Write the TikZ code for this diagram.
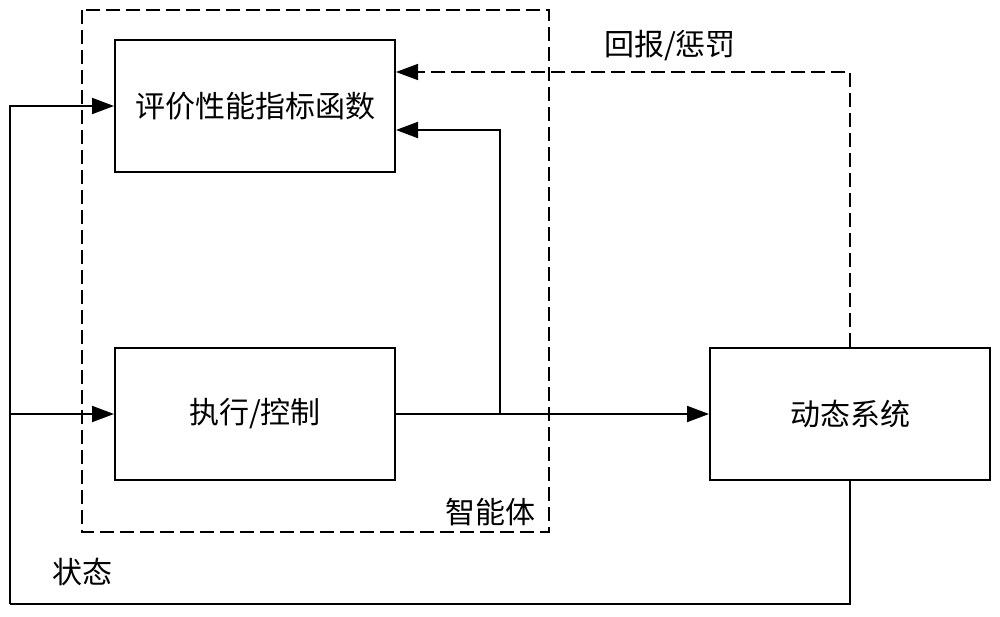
\documentclass[tikz,border=0pt]{standalone}
\usepackage{fontspec}
\setmainfont{Noto Sans CJK SC}
\usetikzlibrary{arrows.meta}
\begin{document}
\begin{tikzpicture}[x=1pt,y=-1pt,
  blk/.style={draw,line width=2pt,minimum width=280pt,minimum height=132pt,inner sep=0pt,font=\fontsize{30}{34}\selectfont},
  lbl/.style={font=\fontsize{30}{34}\selectfont,inner sep=0pt},
  conn/.style={line width=2pt},
  arr/.style={conn,-{Triangle[length=22pt,width=16pt]}},
  dsh/.style={line width=1.5pt,dash pattern=on 14pt off 6pt}]
\useasboundingbox (0,0) rectangle (1000,616);
\fill[white] (0,0) rectangle (1000,616);
% agent dashed box
\coordinate (ag1) at (82,10);
\coordinate (ag2) at (549,532);
\draw[dsh] (ag1) rectangle (ag2);
\node[blk] (eval) at (255,106) {评价性能指标函数};
\node[blk] (ctrl) at (255,414) {执行/控制};
\node[blk] (sys) at (850,414) {动态系统};
\node[lbl] (agent) at (490,512) {智能体};
\node[lbl] (state) at (82,572) {状态};
\node[lbl] (reward) at (670,46) {回报/惩罚};
% control to system
\coordinate (br) at (500,414);
\draw[arr] (ctrl.east) -- (sys.west);
\draw[arr] (br) |- ([yshift=-24pt]eval.east);
% reward dashed
\draw[dsh,-{Triangle[length=22pt,width=16pt]}] (sys.north) |- ([yshift=34pt]eval.east);
% state loop
\coordinate (lb) at (10,604);
\draw[conn] (sys.south) |- (lb);
\draw[arr] (lb) |- (eval.west);
\draw[arr] (lb |- ctrl.west) -- (ctrl.west);
\end{tikzpicture}
\end{document}
